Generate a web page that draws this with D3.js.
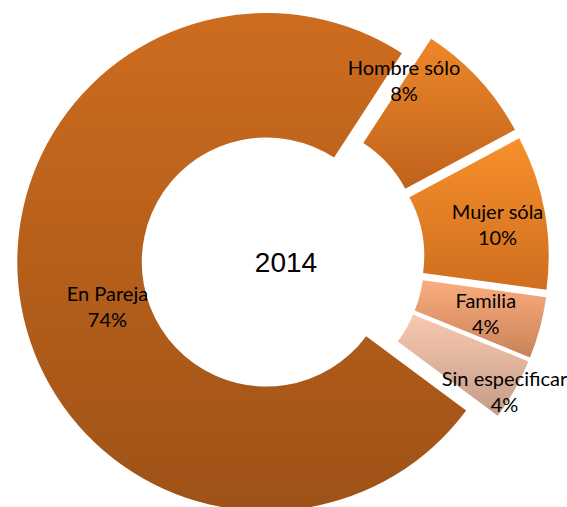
<!DOCTYPE html>
<html>
<head>
<meta charset="utf-8">
<script src="https://cdn.jsdelivr.net/npm/d3@7"></script>
<style>
  body { margin: 0; background: #fff; }
</style>
</head>
<body>
<div id="chart"></div>
<script>
// data
const categories = ["Hombre sólo", "Mujer sóla", "Familia", "Sin especificar", "En Pareja"];
const values = [8, 10, 4, 4, 74];
const title = "2014";

// styling per slice (top / bottom of the gradient), label nudges
const topColors = ["#EE8729", "#F78F2B", "#FAAD7E", "#F9C9B0", "#CD6C1F"];
const bottomColors = ["#BE621C", "#CF6E1F", "#C98258", "#C49C88", "#9E5217"];
const labelNudge = [[-29, -39], [14, 3], [6, 3], [44, 34], [25, 13]];

const width = 567;
const height = 507;
const cx = 283, cy = 259;
const outer = 249;
const inner = outer * 0.5;
const explode = 17;

const svg = d3.select("#chart")
  .append("svg")
  .attr("width", width)
  .attr("height", height);

const defs = svg.append("defs");
topColors.forEach((c, i) => {
  const g = defs.append("linearGradient")
    .attr("id", "grad" + i)
    .attr("x1", 0).attr("y1", 0)
    .attr("x2", 0).attr("y2", 1);
  g.append("stop").attr("offset", "0%").attr("stop-color", c);
  g.append("stop").attr("offset", "100%").attr("stop-color", bottomColors[i]);
});

const pie = d3.pie()
  .sort(null)
  .value(d => d)
  .startAngle(33 * Math.PI / 180)
  .endAngle(33 * Math.PI / 180 + 2 * Math.PI);

const arc = d3.arc()
  .innerRadius(inner)
  .outerRadius(outer);

const labelArc = d3.arc()
  .innerRadius((inner + outer) / 2)
  .outerRadius((inner + outer) / 2);

const arcs = pie(values);

// pushes a slice out along its bisector
const shift = d => {
  const mid = (d.startAngle + d.endAngle) / 2;
  return [explode * Math.sin(mid), -explode * Math.cos(mid)];
};

const root = svg.append("g")
  .attr("transform", `translate(${cx},${cy})`);

root.selectAll("path.slice")
  .data(arcs)
  .join("path")
  .attr("class", "slice")
  .attr("transform", d => `translate(${shift(d)})`)
  .attr("d", arc)
  .attr("fill", (d, i) => `url(#grad${i})`);

// labels on top of every slice
const labels = root.selectAll("text.label")
  .data(arcs)
  .join("text")
  .attr("class", "label")
  .attr("text-anchor", "middle")
  .style("font-family", "Lato, 'Open Sans', sans-serif")
  .style("font-size", "20px")
  .attr("fill", "#000");

labels.each(function(d, i) {
  const [x, y] = labelArc.centroid(d);
  const [sx, sy] = shift(d);
  const lx = x + sx + labelNudge[i][0];
  const ly = y + sy + labelNudge[i][1];
  const t = d3.select(this);
  t.append("tspan")
    .attr("x", lx)
    .attr("y", ly - 7)
    .text(categories[i]);
  t.append("tspan")
    .attr("x", lx)
    .attr("y", ly + 19)
    .text(values[i] + "%");
});

svg.append("text")
  .attr("x", 286)
  .attr("y", 272)
  .attr("text-anchor", "middle")
  .style("font-family", "'Liberation Sans', Arial, sans-serif")
  .style("font-size", "28px")
  .attr("fill", "#000")
  .text(title);
</script>
</body>
</html>
